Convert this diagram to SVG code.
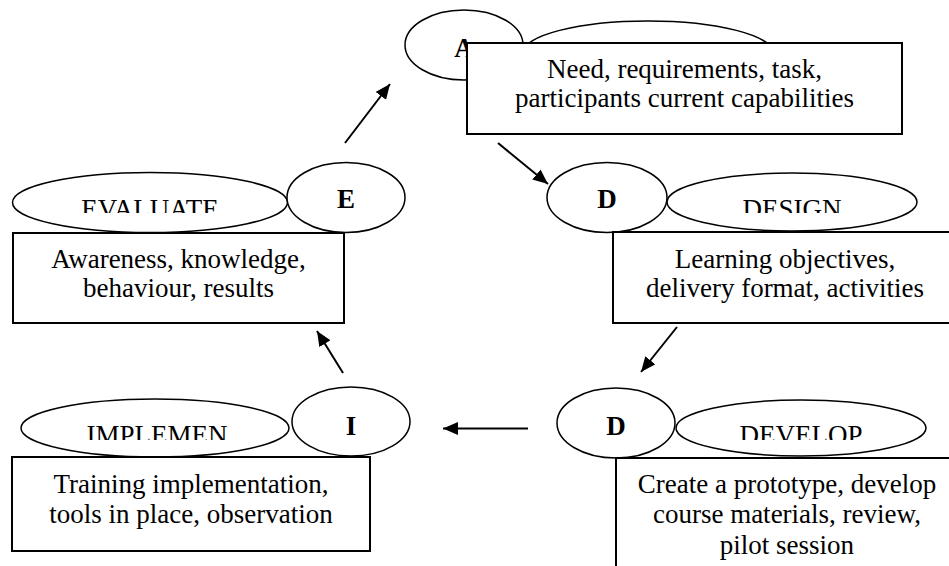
<svg xmlns="http://www.w3.org/2000/svg" width="949" height="566" viewBox="0 0 949 566">
<style>
.el{fill:#fff;stroke:#000;stroke-width:1.5}
.bx{fill:#fff;stroke:#000;stroke-width:2}
text{font-family:'Liberation Serif','Times New Roman',serif;font-size:27px;fill:#000;text-anchor:middle}
.b{font-weight:bold}
.cn{stroke:#000;stroke-width:2;fill:none;marker-end:url(#ah)}
</style>
<defs>
<marker id="ah" markerUnits="userSpaceOnUse" markerWidth="16" markerHeight="14" refX="15" refY="6.5" orient="auto">
<path d="M0,0 L15,6.5 L0,13 Z" fill="#000"/>
</marker>
<clipPath id="cTop"><rect x="0" y="180" width="949" height="33"/></clipPath>
<clipPath id="cBot"><rect x="0" y="405" width="949" height="35"/></clipPath>
</defs>

<g id="analyse">
<ellipse class="el" cx="464" cy="45" rx="59" ry="35"/>
<text class="b" x="464" y="57">A</text>
<ellipse class="el" cx="648" cy="53" rx="125" ry="32"/>
<rect class="bx" x="467" y="43" width="435" height="91"/>
<text x="684.5" y="78">Need, requirements, task,</text>
<text x="684.5" y="107">participants current capabilities</text>
</g>

<g id="evaluate">
<ellipse class="el" cx="150" cy="202.5" rx="137.5" ry="30"/>
<text x="150" y="218" clip-path="url(#cTop)">EVALUATE</text>
<ellipse class="el" cx="346" cy="197.5" rx="59" ry="35"/>
<text class="b" x="346" y="208">E</text>
<rect class="bx" x="13" y="233" width="331" height="90"/>
<text x="178.5" y="268">Awareness, knowledge,</text>
<text x="178.5" y="297">behaviour, results</text>
</g>

<g id="design">
<ellipse class="el" cx="607" cy="197.5" rx="60" ry="35"/>
<text class="b" x="607" y="208">D</text>
<ellipse class="el" cx="792" cy="202" rx="125" ry="29"/>
<text x="792" y="218" clip-path="url(#cTop)">DESIGN</text>
<rect class="bx" x="613" y="232" width="345" height="91"/>
<text x="785" y="268">Learning objectives,</text>
<text x="785" y="297">delivery format, activities</text>
</g>

<g id="implement">
<ellipse class="el" cx="155" cy="428" rx="134" ry="29"/>
<text x="157" y="444" clip-path="url(#cBot)">IMPLEMEN</text>
<ellipse class="el" cx="351" cy="421.5" rx="59" ry="34.5"/>
<text class="b" x="351" y="435">I</text>
<rect class="bx" x="12" y="457" width="358" height="94"/>
<text x="191" y="493">Training implementation,</text>
<text x="191" y="523">tools in place, observation</text>
</g>

<g id="develop">
<ellipse class="el" cx="616" cy="423" rx="59" ry="35"/>
<text class="b" x="616" y="435">D</text>
<ellipse class="el" cx="801" cy="428" rx="125" ry="28"/>
<text x="801" y="444" clip-path="url(#cBot)">DEVELOP</text>
<rect class="bx" x="616" y="458" width="345" height="120"/>
<text x="787" y="493">Create a prototype, develop</text>
<text x="787" y="523">course materials, review,</text>
<text x="787" y="554">pilot session</text>
</g>

<g id="connectors">
<line class="cn" x1="345" y1="143" x2="390" y2="84"/>
<line class="cn" x1="498" y1="143" x2="548" y2="184"/>
<line class="cn" x1="677" y1="327" x2="641" y2="372"/>
<line class="cn" x1="528" y1="428.5" x2="443" y2="428.5"/>
<line class="cn" x1="343" y1="373" x2="317" y2="331"/>
</g>
</svg>
